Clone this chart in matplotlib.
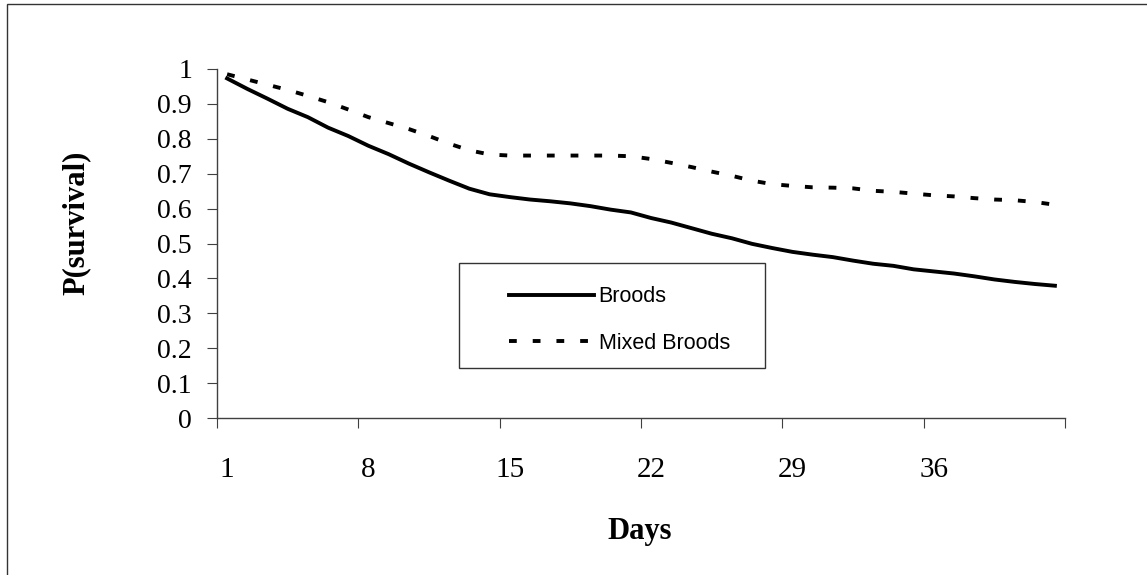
import matplotlib
matplotlib.use("Agg")
import matplotlib.pyplot as plt
from matplotlib.patches import Rectangle

days = list(range(1, 43))
broods = [0.973, 0.943, 0.915, 0.886, 0.862, 0.832, 0.808, 0.780, 0.756, 0.729,
          0.704, 0.680, 0.657, 0.641, 0.633, 0.626, 0.621, 0.615, 0.607, 0.597,
          0.589, 0.573, 0.560, 0.544, 0.528, 0.515, 0.499, 0.487, 0.476, 0.468,
          0.461, 0.451, 0.442, 0.436, 0.426, 0.420, 0.414, 0.406, 0.397, 0.390,
          0.384, 0.379]
mixed = [0.985, 0.970, 0.955, 0.940, 0.923, 0.905, 0.884, 0.862, 0.845, 0.828,
         0.808, 0.786, 0.767, 0.755, 0.752, 0.752, 0.752, 0.752, 0.752, 0.752,
         0.750, 0.742, 0.731, 0.719, 0.706, 0.694, 0.680, 0.670, 0.665, 0.661,
         0.660, 0.658, 0.651, 0.648, 0.643, 0.638, 0.635, 0.630, 0.626, 0.624,
         0.619, 0.611]
label_days = [1, 8, 15, 22, 29, 36]

serif = ['Liberation Serif', 'DejaVu Serif']
sans = ['Liberation Sans', 'DejaVu Sans']
W, H = 1147, 575

fig = plt.figure(figsize=(11.47, 5.75), dpi=100)
ax = fig.add_axes([217/W, 1-418/H, (1065-217)/W, (418-69)/H])

ax.plot(days, broods, color='black', lw=2.8, label='Broods')
ax.plot(days, mixed, color='black', lw=2.8, dashes=(2.0, 4.1), label='Mixed Broods')

ax.set_xlim(0.5, 42.5)
ax.set_ylim(0, 1)
for s in ['top', 'right']:
    ax.spines[s].set_visible(False)
for s in ['left', 'bottom']:
    ax.spines[s].set_color('#404040')
    ax.spines[s].set_linewidth(1.0)

# category axis: tick marks between categories, labels on categories
ax.set_xticks([0.5 + 7*i for i in range(7)])
ax.set_xticklabels([])
ax.set_xticks(label_days, minor=True)
ax.set_xticklabels([str(d) for d in label_days], minor=True, family=serif, fontsize=21)
ax.tick_params(axis='x', which='major', direction='out', length=7, color='#404040')
ax.tick_params(axis='x', which='minor', length=0, pad=28)

ax.set_yticks([i/10 for i in range(11)])
ax.set_yticklabels(['0', '0.1', '0.2', '0.3', '0.4', '0.5', '0.6', '0.7', '0.8', '0.9', '1'],
                   family=serif, fontsize=20)
ax.tick_params(axis='y', direction='out', length=7, color='#404040', pad=11)

fig.text(639.5/W, 1-539/H, 'Days', family=serif, fontsize=22, fontweight='bold',
         ha='center', va='baseline')
fig.text(76/W, 1-222.5/H, 'P(survival)', family=serif, fontsize=22, fontweight='bold',
         rotation=90, ha='center', va='center')

# legend box drawn separately, entries placed inside it
ax.add_patch(Rectangle(((459-217)/848, (418-368)/349), 306/848, 105/349, transform=ax.transAxes,
                       fill=False, edgecolor='#333333', lw=1.0, zorder=5))
ax.legend(loc='upper left', bbox_to_anchor=((498-217)/848, (418-275.5)/349),
          frameon=False, borderpad=0, handlelength=3.95, handletextpad=0.23,
          labelspacing=1.18, prop={'family': sans, 'size': 15.5})

fig.patches.append(Rectangle((7/W, -0.02), 1.05, 1-3.5/H+0.02, transform=fig.transFigure,
                             fill=False, edgecolor='#333333', lw=1.0))

fig.savefig('out.png', dpi=100)
